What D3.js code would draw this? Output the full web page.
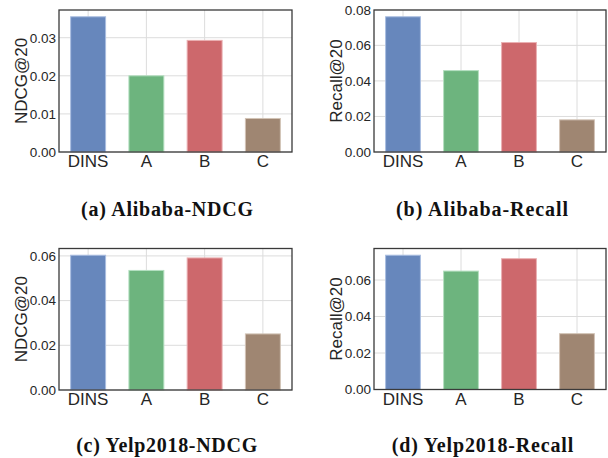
<!DOCTYPE html>
<html lang="en">
<head>
  <meta charset="UTF-8">
  <title>DINS ablation</title>
  <script src="https://cdn.jsdelivr.net/npm/d3@7"></script>
  <style>
    body { margin: 0; background: #fff; }
    svg { display: block; }
  </style>
</head>
<body>
  <div id="chart"></div>
  <script>
    // data
    const methods = ["DINS", "A", "B", "C"];
    const alibabaNdcg = [0.0355, 0.0200, 0.0293, 0.0088];
    const alibabaRecall = [0.0761, 0.0458, 0.0616, 0.0181];
    const yelpNdcg = [0.0603, 0.0535, 0.0591, 0.0251];
    const yelpRecall = [0.0736, 0.0649, 0.0717, 0.0306];
    const ndcgTicksAlibaba = [0, 0.01, 0.02, 0.03];
    const recallTicksAlibaba = [0, 0.02, 0.04, 0.06, 0.08];
    const ticksYelp = [0, 0.02, 0.04, 0.06];
    const captions = ["(a) Alibaba-NDCG", "(b) Alibaba-Recall", "(c) Yelp2018-NDCG", "(d) Yelp2018-Recall"];

    const colors = ["#6787bc", "#6db47e", "#cd686c", "#9f8672"];
    const edges = ["#a9bde0", "#b4dfc0", "#eab0b2", "#d2c3b6"];

    const width = 608, height = 458;
    const svg = d3.select("#chart").append("svg")
      .attr("width", width)
      .attr("height", height);

    const panels = [
      { values: alibabaNdcg, ticks: ndcgTicksAlibaba, label: "NDCG@20", left: 59, right: 292, top: 10, bottom: 152, labelX: 26.5, cap: captions[0], capX: 167, capY: 215.5, capW: 172 },
      { values: alibabaRecall, ticks: recallTicksAlibaba, label: "Recall@20", left: 374, right: 606, top: 10, bottom: 152, labelX: 341.5, cap: captions[1], capX: 482, capY: 215.5, capW: 172 },
      { values: yelpNdcg, ticks: ticksYelp, label: "NDCG@20", left: 59, right: 292, top: 248.5, bottom: 390, labelX: 26.5, cap: captions[2], capX: 166.7, capY: 452, capW: 181 },
      { values: yelpRecall, ticks: ticksYelp, label: "Recall@20", left: 374, right: 606, top: 248.5, bottom: 389.5, labelX: 341.5, cap: captions[3], capX: 482.5, capY: 452, capW: 181.5 }
    ];

    panels.forEach(p => {
      const g = svg.append("g");

      const x = d3.scaleBand()
        .domain(methods)
        .range([p.left, p.right])
        .paddingInner(0.4)
        .paddingOuter(0.2);

      const y = d3.scaleLinear()
        .domain([0, d3.max(p.values) * 1.05])
        .range([p.bottom, p.top]);

      // grid
      g.selectAll(".hgrid")
        .data(p.ticks)
        .join("line")
        .attr("x1", p.left).attr("x2", p.right)
        .attr("y1", d => y(d)).attr("y2", d => y(d))
        .attr("stroke", "#dcdcdc")
        .attr("stroke-width", 1);

      g.selectAll(".vgrid")
        .data(methods)
        .join("line")
        .attr("x1", d => x(d) + x.bandwidth() / 2)
        .attr("x2", d => x(d) + x.bandwidth() / 2)
        .attr("y1", p.top).attr("y2", p.bottom)
        .attr("stroke", "#dcdcdc")
        .attr("stroke-width", 1);

      // bars
      g.selectAll(".bar")
        .data(p.values)
        .join("rect")
        .attr("x", (d, i) => x(methods[i]))
        .attr("y", d => y(d))
        .attr("width", x.bandwidth())
        .attr("height", d => y(0) - y(d))
        .attr("fill", (d, i) => colors[i])
        .attr("stroke", (d, i) => edges[i])
        .attr("stroke-width", 1);

      // frame
      g.append("rect")
        .attr("x", p.left).attr("y", p.top)
        .attr("width", p.right - p.left)
        .attr("height", p.bottom - p.top)
        .attr("fill", "none")
        .attr("stroke", "#3a3a3a")
        .attr("stroke-width", 1.3);

      // y axis
      const yAxis = g.append("g")
        .attr("transform", `translate(${p.left},0)`)
        .call(d3.axisLeft(y).tickValues(p.ticks).tickFormat(d3.format(".2f")).tickSize(0).tickPadding(3));
      yAxis.select(".domain").remove();
      yAxis.selectAll("text")
        .attr("fill", "#262626")
        .style("font-family", "'Liberation Sans', Arial, sans-serif")
        .style("font-size", "13.5px");

      // x axis
      const xAxis = g.append("g")
        .attr("transform", `translate(0,${p.bottom})`)
        .call(d3.axisBottom(x).tickSize(0).tickPadding(3));
      xAxis.select(".domain").remove();
      xAxis.selectAll("text")
        .attr("fill", "#262626")
        .style("font-family", "'Liberation Sans', Arial, sans-serif")
        .style("font-size", "17px");

      // y label
      g.append("text")
        .attr("transform", `translate(${p.labelX},${(p.top + p.bottom) / 2}) rotate(-90)`)
        .attr("text-anchor", "middle")
        .attr("fill", "#262626")
        .style("font-family", "'Liberation Sans', Arial, sans-serif")
        .style("font-size", "17px")
        .text(p.label);

      // caption
      svg.append("text")
        .attr("x", p.capX)
        .attr("y", p.capY)
        .attr("text-anchor", "middle")
        .attr("textLength", p.capW)
        .attr("lengthAdjust", "spacing")
        .attr("fill", "#111")
        .style("font-family", "'Liberation Serif', 'DejaVu Serif', serif")
        .style("font-weight", "bold")
        .style("font-size", "20px")
        .text(p.cap);
    });
  </script>
</body>
</html>
